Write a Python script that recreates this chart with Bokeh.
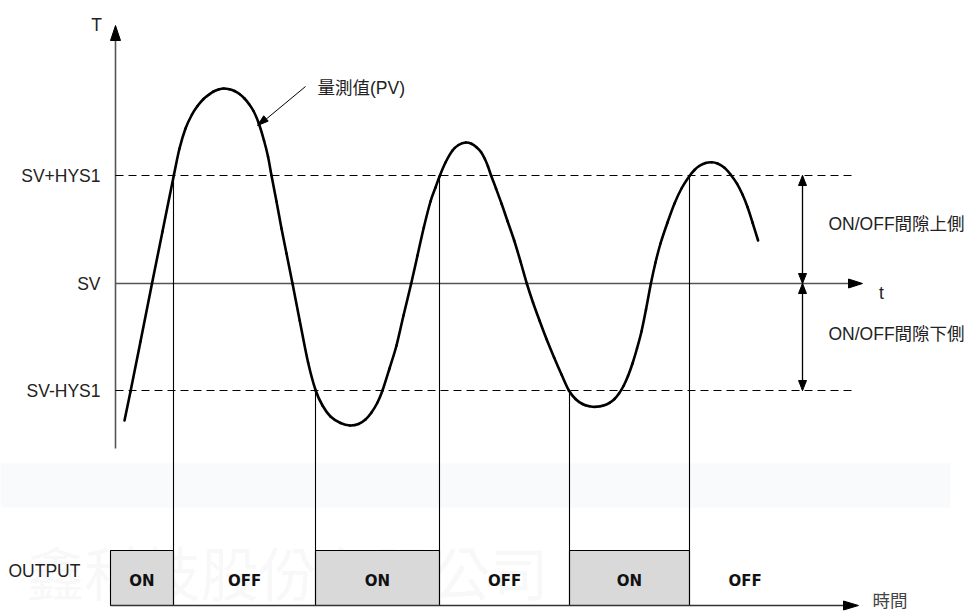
from bokeh.plotting import figure
from bokeh.models import Range1d, Label, ColumnDataSource
from bokeh.embed import file_html
from bokeh.resources import INLINE

# ---------------- data (diagram units = reference pixel grid) ----------------
level_names = ["SV+HYS1", "SV", "SV-HYS1"]
level_y = [175, 283, 390]

pv_x = [124, 130, 140, 151.5, 162, 173.3, 179, 185, 191.5, 197, 203, 208, 213, 218, 223.3,
        229, 234, 239, 244, 248.5, 253, 258, 263.5, 267.5, 271, 276, 281, 286, 292, 299.2,
        307.6, 315.2, 322, 330, 340, 349.5,
        358, 365, 371, 377, 382, 389, 396, 403, 410.7, 417, 423.3, 430, 435, 439, 445, 452,
        458, 465.3,
        471, 476, 480.5, 484.3, 487.5, 490.6, 495.5, 501.1, 507, 513.7, 520, 526.3, 532.5,
        539, 546, 553.6, 561, 568.4,
        575, 582, 589, 596, 603, 609, 614, 618.5, 623, 627.5, 632, 636.5, 641, 645.5, 650.4,
        655, 660, 667, 674, 681, 689, 694, 698.7, 705, 711.3,
        717, 724, 730, 736.6, 742, 747.1, 752, 757.6]
pv_y = [420, 391, 341, 283, 231, 175, 148, 128, 114, 105.5, 98.5, 94.5, 91, 89, 88,
        88.8, 90.5, 93.5, 98, 103.5, 110.5, 122, 140, 156, 175, 201, 228, 253, 283, 320,
        362, 390, 405, 416, 422.5, 425,
        423.5, 419, 412, 402, 390, 368, 345, 315, 283, 255, 227, 201, 187, 176, 162, 150,
        144.5, 142,
        143.3, 146.7, 151.5, 158.3, 166, 175, 188, 203.3, 220.5, 240, 261, 283, 302,
        320, 338.5, 357, 374, 390,
        398.5, 403.5, 405.8, 406.3, 405, 402.3, 398.5, 393, 385.5, 375.5, 363, 348, 331,
        309, 283,
        262, 243, 222, 203, 188, 175.5, 169.5, 165.5, 162.5, 161.7,
        163, 167.3, 174, 183.3, 194, 206.7, 222, 240]

# controller output segments
seg_edges = [110, 173, 315, 439, 569, 689, 800]
seg_states = ["ON", "OFF", "ON", "OFF", "ON", "OFF"]
switch_x = [173, 315, 439, 569, 689]
switch_level = ["SV+HYS1", "SV-HYS1", "SV+HYS1", "SV-HYS1", "SV+HYS1"]

# ---------------- geometry / style ----------------
AX_X = 115          # temperature axis
AX_BOTTOM, AX_TOP = 448, 25
LINE_END = 855      # dashed levels end
T_TIP = 862         # t axis arrow tip
GAP_X = 802         # hysteresis span arrows
OUT_TOP, OUT_BASE = 550, 605
TIME_TIP = 858

LATIN = "Liberation Sans"
MIXED = "Liberation Sans, Noto Sans CJK TC"
TXT = "#222222"
FS = "17.5px"

p = figure(width=970, height=612, output_backend="svg", toolbar_location=None,
           x_range=Range1d(0, 970), y_range=Range1d(612, 0),
           x_axis_location=None, y_axis_location=None, min_border=0)
p.min_border_left = p.min_border_right = p.min_border_top = p.min_border_bottom = 0
p.grid.visible = False
p.outline_line_color = None
p.background_fill_color = "white"
p.border_fill_color = "white"

lv = dict(zip(level_names, level_y))

# faint background band + watermark
p.quad(left=0, right=950, top=463, bottom=507, fill_color="#f9fafb", line_color=None,
       level="underlay")
p.add_layout(Label(x=26, y=570, text="鑫科技股份有限公司", text_align="left",
                   text_baseline="middle", text_font="Noto Sans CJK TC",
                   text_font_size="58px", text_color="#f8f8f8", level="underlay"))


def head(tx, ty, dx, dy, length, width, color="black"):
    # triangular arrow head with tip at (tx, ty) pointing along (dx, dy)
    bx, by = tx - dx * length, ty - dy * length
    px, py = -dy, dx
    xs = [tx, bx + px * width / 2, bx - px * width / 2]
    ys = [ty, by + py * width / 2, by - py * width / 2]
    p.patch(xs, ys, fill_color=color, line_color=color, line_width=1)


# temperature axis
p.line([AX_X, AX_X], [AX_BOTTOM, AX_TOP + 10], line_color="#555555", line_width=1.6)
head(AX_X, AX_TOP, 0, -1, 15, 10)

# dashed hysteresis limits
for name in ["SV+HYS1", "SV-HYS1"]:
    p.line([AX_X, LINE_END], [lv[name], lv[name]], line_color="black", line_width=1,
           line_dash="8 5")
# SV time axis
p.line([AX_X, T_TIP - 10], [lv["SV"], lv["SV"]], line_color="#555555", line_width=1.6)
head(T_TIP, lv["SV"], 1, 0, 14, 9)

# hysteresis span arrows
p.line([GAP_X, GAP_X], [lv["SV+HYS1"], lv["SV-HYS1"]], line_color="black", line_width=1.3)
head(GAP_X, lv["SV+HYS1"], 0, -1, 10, 8)
head(GAP_X, lv["SV"], 0, 1, 10, 8)
head(GAP_X, lv["SV"], 0, -1, 10, 8)
head(GAP_X, lv["SV-HYS1"], 0, 1, 10, 8)

# output blocks
for i, st in enumerate(seg_states):
    if st == "ON":
        p.quad(left=seg_edges[i], right=seg_edges[i + 1], top=OUT_TOP, bottom=OUT_BASE,
               fill_color="#d9d9d9", line_color="black", line_width=1.1)
for sx, sl in zip(switch_x, switch_level):
    p.line([sx, sx], [lv[sl], OUT_BASE], line_color="black", line_width=1.1)

# time baseline
p.line([seg_edges[0], TIME_TIP - 10], [OUT_BASE, OUT_BASE], line_color="#333333",
       line_width=1.6)
head(TIME_TIP, OUT_BASE, 1, 0, 15, 9)

# PV curve: smooth (Catmull-Rom) path through the read points
n = len(pv_x)
seg = dict(x0=[], y0=[], x1=[], y1=[], cx0=[], cy0=[], cx1=[], cy1=[])
for i in range(n - 1):
    a = max(i - 1, 0)
    d = min(i + 2, n - 1)
    seg["x0"].append(pv_x[i]); seg["y0"].append(pv_y[i])
    seg["x1"].append(pv_x[i + 1]); seg["y1"].append(pv_y[i + 1])
    seg["cx0"].append(pv_x[i] + (pv_x[i + 1] - pv_x[a]) / 6)
    seg["cy0"].append(pv_y[i] + (pv_y[i + 1] - pv_y[a]) / 6)
    seg["cx1"].append(pv_x[i + 1] - (pv_x[d] - pv_x[i]) / 6)
    seg["cy1"].append(pv_y[i + 1] - (pv_y[d] - pv_y[i]) / 6)
p.bezier(x0="x0", y0="y0", x1="x1", y1="y1", cx0="cx0", cy0="cy0", cx1="cx1", cy1="cy1",
         source=ColumnDataSource(seg), line_color="black", line_width=2.6,
         line_cap="round")

# pointer to PV
p.line([305, 264], [86, 120], line_color="black", line_width=1)
head(257, 125, -0.77, 0.64, 11, 7)

# ---------------- texts ----------------
def lab(x, y, t, align="left", font=LATIN, size=FS, color=TXT, style="normal"):
    p.add_layout(Label(x=x, y=y, text=t, text_align=align, text_baseline="middle",
                       text_font=font, text_font_size=size, text_color=color,
                       text_font_style=style))


lab(96, 24, "T", align="center")
lab(881, 292, "t", align="center")
for name, y in zip(level_names, level_y):
    lab(100, y, name, align="right")
lab(317, 87, "量測值(PV)", font=MIXED)
lab(828, 223, "ON/OFF間隙上側", font=MIXED)
lab(828, 333, "ON/OFF間隙下側", font=MIXED)
lab(8, 570, "OUTPUT")
lab(872, 600, "時間", font=MIXED, color="#444444")
for i, st in enumerate(seg_states):
    cx = (seg_edges[i] + seg_edges[i + 1]) / 2
    lab(cx, 580, st, align="center", font="DejaVu Sans", size="15px", color="#111111",
        style="bold")

open("out.html", "w").write(file_html(p, INLINE))
